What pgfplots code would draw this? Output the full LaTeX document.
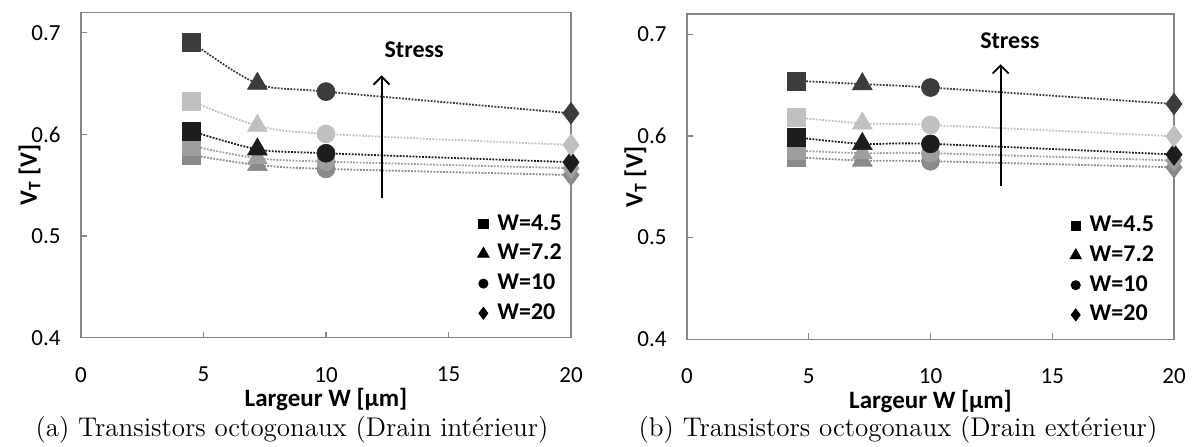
\documentclass[border=0pt]{standalone}
\usepackage{pgfplots}
\pgfplotsset{compat=1.18}
\usepackage{fontspec}
\newfontfamily\calibri{Carlito}
\usetikzlibrary{arrows.meta}
\definecolor{axgray}{HTML}{868686}
\definecolor{sA}{HTML}{3C3C3C}
\definecolor{sB}{HTML}{C0C0C0}
\definecolor{sC}{HTML}{1C1C1C}
\definecolor{sD}{HTML}{9E9E9E}
\definecolor{sE}{HTML}{8A8A8A}
\pgfplotsset{
  panel/.style={
    scale only axis, height=162.7pt,
    xmin=0, xmax=20, ymin=0.4, ymax=0.72,
    xtick={0,5,10,15,20}, ytick={0.4,0.5,0.6,0.7},
    tick align=inside, tick pos=left, major tick length=3pt,
    axis line style={draw=axgray, line width=0.6pt},
    every tick/.style={draw=axgray, line width=0.6pt},
    /pgf/number format/assume math mode=true,
    tick label style={font=\calibri\fontsize{11.5}{13}\selectfont, text=black, inner sep=0pt},
    yticklabel style={/pgf/number format/fixed, /pgf/number format/precision=1, /pgf/number format/fixed zerofill, xshift=-10pt},
    xticklabel style={yshift=-14.5pt},
    xlabel={\bfseries Largeur W [µm]},
    every axis x label/.style={at={(axis description cs:0.5,0)}, anchor=center, yshift=-31pt, font=\calibri\fontsize{12.5}{14}\selectfont},
    ylabel={\bfseries V\textsubscript{T} [V]},
    clip=false,
    legend cell align=left,
    legend style={draw=none, fill=none, font=\calibri\bfseries\fontsize{12}{14}\selectfont,
      anchor=south east, row sep=3.85pt, inner sep=0pt,
      nodes={text height=8pt, text depth=2pt, inner sep=0.5pt}},
  },
  wcls/.style={scatter, scatter src=explicit symbolic,
    scatter/classes={s={mark=square*, mark size=4.5pt}, t={mark=triangle*, mark size=5.7pt},
      c={mark=*, mark size=4.5pt}, d={mark=diamond*, mark size=5.4pt}}},
  ser/.style={color=#1, line width=0.9pt, dash pattern=on 0.9pt off 0.7pt, smooth, tension=0.5,
    mark options={solid, fill=#1, draw=#1, line width=0.3pt}, wcls},
  limg/.style={only marks, black, mark=#1, legend image code/.code={\draw plot coordinates {(0.1cm,0cm)}; \path (0cm,0cm) (0.32cm,0cm);}},
}
\begin{document}
\begin{tikzpicture}
\useasboundingbox (0,0) rectangle (598pt,223pt);
% ---------------- (a) ----------------
\begin{axis}[panel, width=245pt, at={(40.5pt,54.15pt)}, anchor=south west,
  every axis y label/.style={at={(axis description cs:-0.105,0.5)}, rotate=90, anchor=center, font=\calibri\fontsize{12.5}{14}\selectfont},
  legend style={at={(axis description cs:0.984,0.04)}}]
\addlegendimage{limg={square*}, mark size=2.3pt}\addlegendentry{W=4.5}
\addlegendimage{limg={triangle*}, mark size=3.3pt}\addlegendentry{W=7.2}
\addlegendimage{limg={*}, mark size=2.3pt}\addlegendentry{W=10}
\addlegendimage{limg={diamond*}, mark size=3pt}\addlegendentry{W=20}
\addplot[ser=sE] table[meta=m, row sep=\\] {x y m \\ 4.5 0.5797 s \\ 7.2 0.5699 t \\ 10 0.5660 c \\ 20 0.5600 d \\};
\addplot[ser=sD] table[meta=m, row sep=\\] {x y m \\ 4.5 0.5886 s \\ 7.2 0.5765 t \\ 10 0.5732 c \\ 20 0.5667 d \\};
\addplot[ser=sC] table[meta=m, row sep=\\] {x y m \\ 4.5 0.6033 s \\ 7.2 0.5853 t \\ 10 0.5814 c \\ 20 0.5726 d \\};
\addplot[ser=sB] table[meta=m, row sep=\\] {x y m \\ 4.5 0.6328 s \\ 7.2 0.6085 t \\ 10 0.6004 c \\ 20 0.5896 d \\};
\addplot[ser=sA] table[meta=m, row sep=\\] {x y m \\ 4.5 0.6909 s \\ 7.2 0.6499 t \\ 10 0.6420 c \\ 20 0.6207 d \\};
\draw[black, line width=0.9pt, -{Straight Barb[length=4pt,width=8pt]}] (axis cs:12.27,0.537) -- (axis cs:12.27,0.658);
\node[font=\calibri\bfseries\fontsize{12}{14}\selectfont] at (axis cs:13.6,0.683) {Stress};
\end{axis}
% ---------------- (b) ----------------
\begin{axis}[panel, width=243.5pt, at={(343.5pt,53.35pt)}, anchor=south west,
  every axis y label/.style={at={(axis description cs:-0.106,0.5)}, rotate=90, anchor=center, font=\calibri\fontsize{12.5}{14}\selectfont},
  legend style={at={(axis description cs:0.962,0.04)}}]
\addlegendimage{limg={square*}, mark size=2.3pt}\addlegendentry{W=4.5}
\addlegendimage{limg={triangle*}, mark size=3.3pt}\addlegendentry{W=7.2}
\addlegendimage{limg={*}, mark size=2.3pt}\addlegendentry{W=10}
\addlegendimage{limg={diamond*}, mark size=3pt}\addlegendentry{W=20}
\addplot[ser=sE] table[meta=m, row sep=\\] {x y m \\ 4.5 0.5790 s \\ 7.2 0.5758 t \\ 10 0.5751 c \\ 20 0.5692 d \\};
\addplot[ser=sD] table[meta=m, row sep=\\] {x y m \\ 4.5 0.5856 s \\ 7.2 0.5830 t \\ 10 0.5830 c \\ 20 0.5758 d \\};
\addplot[ser=sC] table[meta=m, row sep=\\] {x y m \\ 4.5 0.5986 s \\ 7.2 0.5922 t \\ 10 0.5922 c \\ 20 0.5817 d \\};
\addplot[ser=sB] table[meta=m, row sep=\\] {x y m \\ 4.5 0.6182 s \\ 7.2 0.6124 t \\ 10 0.6108 c \\ 20 0.5996 d \\};
\addplot[ser=sA] table[meta=m, row sep=\\] {x y m \\ 4.5 0.6542 s \\ 7.2 0.6510 t \\ 10 0.6476 c \\ 20 0.6314 d \\};
\draw[black, line width=0.9pt, -{Straight Barb[length=4pt,width=8pt]}] (axis cs:12.88,0.5506) -- (axis cs:12.88,0.6706);
\node[font=\calibri\bfseries\fontsize{12}{14}\selectfont] at (axis cs:13.26,0.6934) {Stress};
\end{axis}
\node[font=\fontsize{13.5}{16}\selectfont] at (146pt,8pt) {(a) Transistors octogonaux (Drain intérieur)};
\node[font=\fontsize{13.5}{16}\selectfont] at (449pt,8pt) {(b) Transistors octogonaux (Drain extérieur)};
\end{tikzpicture}
\end{document}
